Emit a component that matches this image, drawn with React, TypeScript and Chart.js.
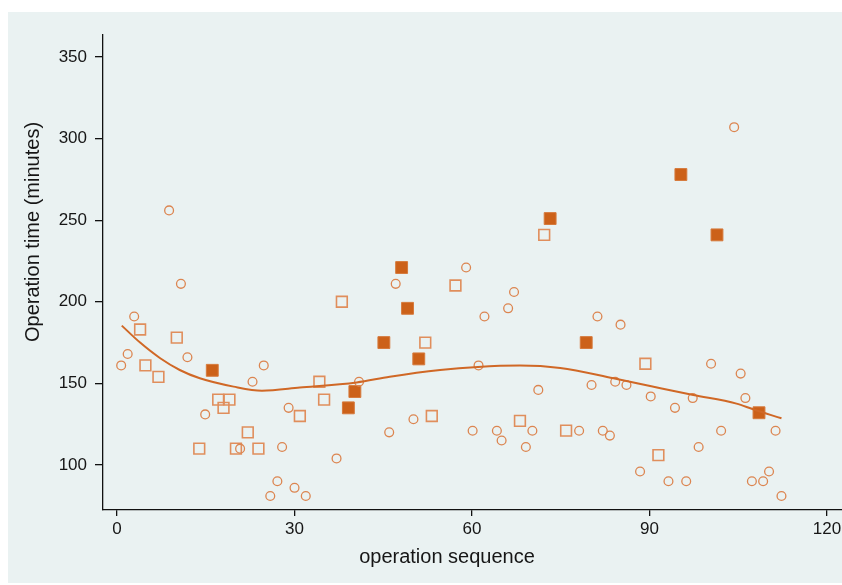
import React, { useEffect, useRef } from "react";
import { Chart, registerables } from "chart.js";

Chart.register(...registerables);

// Hollow circles: [operation sequence, minutes]
const hollowCircles: number[][] = [
  [0.7, 161], [1.8, 168], [2.9, 191], [8.8, 256], [10.8, 211], [11.9, 166], [14.9, 131],
  [20.8, 110], [22.9, 151], [24.8, 161], [25.9, 81], [27.1, 90], [27.9, 111], [29.0, 135],
  [30.0, 86], [31.9, 81], [37.1, 104], [40.9, 151], [46.0, 120], [47.1, 211], [50.1, 128],
  [59.0, 221], [60.1, 121], [61.1, 161], [62.1, 191], [64.2, 121], [65.0, 115], [66.1, 196],
  [67.1, 206], [69.1, 111], [70.2, 121], [71.2, 146], [78.1, 121], [80.2, 149], [81.2, 191],
  [82.1, 121], [83.3, 118], [84.2, 151], [85.1, 186], [86.1, 149], [88.4, 96], [90.2, 142],
  [93.2, 90], [94.3, 135], [96.2, 90], [97.3, 141], [98.3, 111], [100.4, 162], [102.1, 121],
  [104.3, 307], [105.4, 156], [106.2, 141], [107.3, 90], [109.2, 90], [110.2, 96],
  [111.3, 121], [112.3, 81],
];

// Hollow squares
const hollowSquares: number[][] = [
  [3.9, 183], [4.8, 161], [7.0, 154], [10.1, 178], [13.9, 110], [17.1, 140], [18.0, 135],
  [19.0, 140], [20.1, 110], [22.1, 120], [23.9, 110], [30.9, 130], [34.2, 151], [35.0, 140],
  [38.0, 200], [52.1, 175], [53.2, 130], [57.2, 210], [68.1, 127], [72.2, 241], [75.9, 121],
  [89.3, 162], [91.5, 106],
];

// Filled squares
const filledSquares: number[][] = [
  [16.1, 158], [39.1, 135], [40.2, 145], [45.1, 175], [48.1, 221], [49.1, 196], [51.0, 165],
  [73.2, 251], [79.3, 175], [95.3, 278], [101.4, 241], [108.5, 132],
];

// Smoothed trend line
const trendLine: number[][] = [
  [0.8, 185.4], [3.9, 175], [7.3, 165.4], [10.6, 158.2], [14.0, 153.1], [19.7, 148],
  [24.5, 145.5], [30.9, 147.4], [40.5, 150.6], [46.1, 154.1], [54.6, 158.2], [61.0, 160.1],
  [68.1, 160.9], [74.9, 159.4], [83.9, 153.1], [90.1, 148.4], [97.4, 142.9], [104.7, 137.6],
  [107.5, 134.1], [112.3, 128.6],
];

const xTicks = [0, 30, 60, 90, 120];
const yTicks = [100, 150, 200, 250, 300, 350];

const xTitle = "operation sequence";
const yTitle = "Operation time (minutes)";

const FONT = '"Liberation Sans", Arial, Helvetica, sans-serif';

const toPts = (arr: number[][]) => arr.map(([x, y]) => ({ x, y }));

export default function App() {
  const ref = useRef<HTMLCanvasElement | null>(null);

  useEffect(() => {
    if (!ref.current) return;
    const titlePlugin = {
      id: "axisTitles",
      afterDraw(chart: any) {
        const ctx = chart.ctx;
        ctx.save();
        ctx.fillStyle = "#161616";
        ctx.font = `20px ${FONT}`;
        ctx.textAlign = "center";
        ctx.textBaseline = "middle";
        ctx.fillText(xTitle, 447, 557);
        ctx.translate(33, 232);
        ctx.rotate(-Math.PI / 2);
        ctx.fillText(yTitle, 0, 0);
        ctx.restore();
      },
    };

    const chart = new Chart(ref.current, {
      type: "scatter",
      data: {
        datasets: [
          {
            type: "line",
            data: toPts(trendLine),
            borderColor: "#d06826",
            borderWidth: 2,
            pointRadius: 0,
            fill: false,
            cubicInterpolationMode: "monotone",
            order: 0,
          } as any,
          {
            data: toPts(hollowCircles),
            pointStyle: "circle",
            pointRadius: 4.4,
            borderColor: "#dc8550",
            backgroundColor: "rgba(0,0,0,0)",
            borderWidth: 1.3,
            order: 1,
          },
          {
            data: toPts(hollowSquares),
            pointStyle: "rect",
            pointRadius: 7.6,
            borderColor: "#e08e5c",
            backgroundColor: "rgba(0,0,0,0)",
            borderWidth: 1.6,
            order: 2,
          },
          {
            data: toPts(filledSquares),
            pointStyle: "rect",
            pointRadius: 8.4,
            borderColor: "#d67a3c",
            backgroundColor: "#cc6119",
            borderWidth: 1,
            order: 3,
          },
        ],
      },
      options: {
        animation: false,
        responsive: false,
        maintainAspectRatio: false,
        layout: { autoPadding: false, padding: { top: 35, left: 0, right: 0, bottom: 0 } },
        plugins: {
          legend: { display: false },
          tooltip: { enabled: false },
        },
        scales: {
          x: {
            type: "linear",
            min: -2.37,
            max: 122.53,
            afterFit: (s: any) => {
              s.height = 75;
              s.paddingLeft = 0;
              s.paddingRight = 0;
            },
            afterBuildTicks: (s: any) => {
              s.ticks = xTicks.map((v) => ({ value: v }));
            },
            border: { display: true, color: "#111", width: 1.3 },
            grid: {
              display: true,
              drawOnChartArea: false,
              drawTicks: true,
              tickLength: 6,
              tickColor: "#111",
              lineWidth: 1.3,
            },
            ticks: {
              color: "#161616",
              font: { family: FONT, size: 17 },
              padding: 3,
              maxRotation: 0,
              autoSkip: false,
            },
            title: { display: false },
          },
          y: {
            type: "linear",
            min: 72.4,
            max: 363.5,
            afterFit: (s: any) => {
              s.width = 103;
              s.paddingTop = 0;
              s.paddingBottom = 0;
            },
            afterBuildTicks: (s: any) => {
              s.ticks = yTicks.map((v) => ({ value: v }));
            },
            border: { display: true, color: "#111", width: 1.3 },
            grid: {
              display: true,
              drawOnChartArea: false,
              drawTicks: true,
              tickLength: 8,
              tickColor: "#111",
              lineWidth: 1.3,
            },
            ticks: {
              color: "#161616",
              font: { family: FONT, size: 17 },
              padding: 8,
              autoSkip: false,
            },
            title: { display: false },
          },
        },
      },
      plugins: [titlePlugin],
    } as any);

    return () => chart.destroy();
  }, []);

  return (
    <div style={{ position: "absolute", left: 0, top: 0, width: 842, height: 585, background: "#ffffff" }}>
      <div
        style={{
          position: "absolute",
          left: 8,
          top: 12,
          width: 834,
          height: 571,
          background: "#eaf2f2",
        }}
      />
      <canvas
        ref={ref}
        width={842}
        height={585}
        style={{ position: "absolute", left: 0, top: 0, width: 842, height: 585 }}
      />
    </div>
  );
}
